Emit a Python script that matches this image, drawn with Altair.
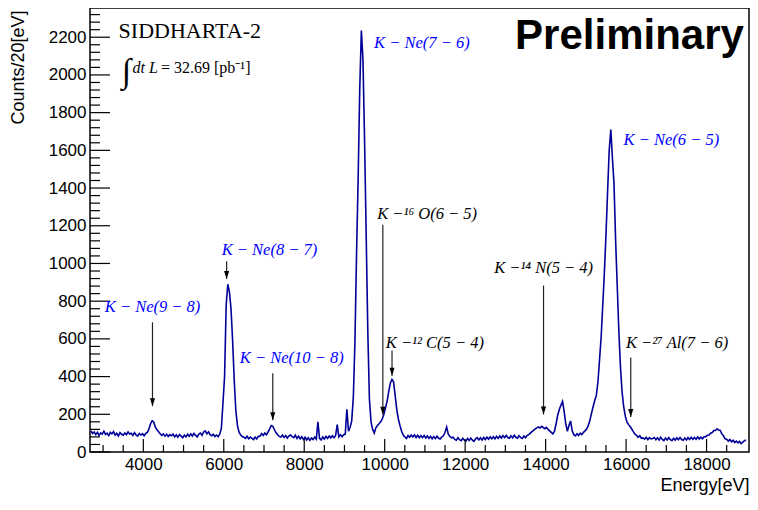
import altair as alt
import pandas as pd

SANS = "Liberation Sans"
SERIF = "Liberation Serif"

# ---- spectrum: counts per bin, bin centres start at 2700 eV, every 40 eV ----
BIN_START = 2700
BIN_STEP = 40
counts_2700 = [112, 98, 106, 92, 104, 88, 101, 95, 110, 93, 100, 87, 104, 96, 108, 90, 99, 85, 103, 94, 89, 101, 92, 106, 95]
counts_3700 = [99, 88, 102, 91, 84, 98, 90, 97, 86, 99, 104, 122, 150, 166, 158, 132, 118, 108, 97, 88, 96, 84, 94, 82, 92]
counts_4700 = [86, 95, 80, 91, 78, 93, 84, 76, 90, 80, 94, 83, 96, 85, 99, 88, 80, 95, 100, 88, 106, 112, 96, 107, 92]
counts_5700 = [86, 94, 82, 90, 81, 95, 125, 260, 400, 780, 890, 850, 760, 590, 380, 220, 140, 105, 90, 82, 78, 72, 84, 70, 79]
counts_6700 = [72, 66, 79, 69, 83, 84, 98, 88, 101, 91, 106, 122, 140, 136, 118, 102, 91, 83, 79, 90, 77, 87, 74, 85, 90]
counts_7700 = [82, 76, 89, 72, 84, 70, 81, 66, 78, 64, 76, 62, 74, 66, 79, 68, 160, 72, 64, 80, 69, 83, 72, 85, 75]
counts_8700 = [86, 76, 88, 145, 80, 91, 81, 92, 95, 227, 110, 130, 165, 290, 580, 1050, 1450, 1930, 2235, 2080, 1650, 1150, 640, 280, 160]
counts_9700 = [120, 100, 128, 140, 150, 160, 175, 200, 235, 270, 320, 365, 385, 372, 300, 225, 175, 140, 110, 90, 80, 72, 87, 78, 90]
counts_10700 = [80, 91, 77, 89, 75, 87, 76, 88, 74, 85, 72, 83, 70, 82, 71, 84, 73, 69, 80, 86, 105, 132, 94, 82, 75]
counts_11700 = [78, 67, 63, 76, 65, 60, 73, 63, 58, 72, 61, 74, 63, 57, 70, 76, 64, 75, 63, 77, 66, 79, 68, 80, 70]
counts_12700 = [81, 70, 83, 72, 85, 74, 87, 76, 88, 77, 73, 86, 75, 89, 78, 73, 87, 76, 72, 85, 76, 88, 92, 100, 108]
counts_13700 = [115, 122, 128, 133, 127, 136, 130, 124, 131, 120, 112, 104, 96, 110, 150, 195, 225, 248, 268, 215, 150, 110, 140, 165, 112]
counts_14700 = [92, 86, 97, 88, 100, 92, 104, 112, 122, 140, 168, 205, 240, 272, 300, 370, 490, 610, 780, 950, 1150, 1380, 1600, 1710, 1560]
counts_15700 = [1420, 1120, 880, 640, 450, 320, 240, 190, 160, 145, 135, 122, 108, 95, 88, 78, 86, 73, 75, 68, 78, 65, 76, 70, 72]
counts_16700 = [77, 65, 75, 63, 78, 67, 61, 74, 64, 76, 65, 60, 73, 63, 75, 65, 77, 66, 62, 74, 64, 76, 66, 78, 68]
counts_17700 = [77, 68, 80, 69, 79, 70, 82, 80, 89, 90, 100, 103, 114, 114, 123, 116, 114, 96, 86, 70, 68, 58, 66, 54, 62]
counts_18700 = [50, 58, 48, 56, 45, 52, 60, 63]

counts = (counts_2700 + counts_3700 + counts_4700 + counts_5700 + counts_6700 + counts_7700
          + counts_8700 + counts_9700 + counts_10700 + counts_11700 + counts_12700 + counts_13700
          + counts_14700 + counts_15700 + counts_16700 + counts_17700 + counts_18700)
energy = [BIN_START + i * BIN_STEP for i in range(len(counts))]

# ---- axes ----
x_domain = [2675, 19055]
y_domain = [0, 2355]
x_major = [4000, 6000, 8000, 10000, 12000, 14000, 16000, 18000]
x_minor = [v for v in range(3000, 19000, 500) if v not in x_major]
y_major = list(range(0, 2201, 200))
y_minor = [v for v in range(40, 2355, 40) if v not in y_major]

# ---- peak labels (text left edge / baseline, in data units) ----
lab_text = ["K − Ne(7 − 6)", "K − Ne(6 − 5)", "K − Ne(8 − 7)", "K − Ne(9 − 8)", "K − Ne(10 − 8)",
            "K −¹⁶ O(6 − 5)", "K −¹⁴ N(5 − 4)", "K −¹² C(5 − 4)", "K −²⁷ Al(7 − 6)"]
lab_e = [9736, 15938, 5948, 3042, 6400, 9814, 12720, 10026, 15995]
lab_c = [2141, 1627, 1046, 745, 470, 1235, 951, 550, 552]
lab_col = ["#0000ff"] * 5 + ["black"] * 4

# ---- arrows ----
arr_e = [4228, 6071, 7218, 9954, 10182, 13948, 16116]
arr_top = [688, 1012, 418, 1206, 538, 883, 501]
arr_tip = [243, 917, 168, 198, 404, 199, 186]

W, H = 659, 444

xs = alt.Scale(domain=x_domain, nice=False, zero=False)
ys = alt.Scale(domain=y_domain, nice=False, zero=False)

x_axis = alt.Axis(
    values=x_major, ticks=False, domain=False, grid=False, format="d",
    labelPadding=4, labelFontSize=17, labelFont=SANS, labelColor="black", labelFlush=False,
    title="Energy[eV]", titleX=W, titleY=38, titleAlign="right", titleBaseline="alphabetic",
    titleFontSize=18, titleFont=SANS, titleFontWeight="normal", titleColor="black")
y_axis = alt.Axis(
    values=y_major, ticks=False, domain=False, grid=False, format="d",
    labelPadding=4, labelFontSize=17, labelFont=SANS, labelColor="black", labelFlush=False,
    title="Counts/20[eV]", titleX=-81, titleY=2, titleAlign="right", titleAngle=270,
    titleBaseline="top", titleFontSize=18, titleFont=SANS, titleFontWeight="normal",
    titleColor="black")

spec_df = pd.DataFrame({"energy": energy, "counts": counts})

spectrum = alt.Chart(spec_df).mark_line(color="#000099", strokeWidth=1.6).encode(
    x=alt.X("energy:Q", scale=xs, axis=x_axis),
    y=alt.Y("counts:Q", scale=ys, axis=y_axis),
)

def yticks(vals, length):
    return alt.Chart(pd.DataFrame({"counts": vals})).mark_rule(color="black", strokeWidth=1.2).encode(
        y=alt.Y("counts:Q", scale=ys, axis=y_axis), x=alt.value(0), x2=alt.value(length))

def xticks(vals, length):
    return alt.Chart(pd.DataFrame({"energy": vals})).mark_rule(color="black", strokeWidth=1.2).encode(
        x=alt.X("energy:Q", scale=xs, axis=x_axis), y=alt.value(H), y2=alt.value(H - length))

arr_df = pd.DataFrame({"energy": arr_e, "counts": arr_top, "tip": arr_tip})
shafts = alt.Chart(arr_df).mark_rule(color="#222222", strokeWidth=1.2).encode(
    x=alt.X("energy:Q", scale=xs, axis=x_axis), y=alt.Y("counts:Q", scale=ys, axis=y_axis), y2="tip:Q")
heads = alt.Chart(arr_df).mark_point(shape="M-0.32,-1L0.32,-1L0,0Z", filled=True, size=256,
                                     color="black", opacity=1).encode(
    x=alt.X("energy:Q", scale=xs, axis=x_axis), y=alt.Y("tip:Q", scale=ys, axis=y_axis))

lab_df = pd.DataFrame({"energy": lab_e, "counts": lab_c, "t": lab_text, "col": lab_col})
labels = alt.Chart(lab_df).mark_text(align="left", baseline="alphabetic", font=SERIF,
                                     fontStyle="italic", fontSize=16.5).encode(
    x=alt.X("energy:Q", scale=xs, axis=x_axis), y=alt.Y("counts:Q", scale=ys, axis=y_axis),
    text="t:N", color=alt.Color("col:N", scale=None))

def note(e, c, text, **kw):
    return alt.Chart(pd.DataFrame({"energy": [e], "counts": [c], "t": [text]})).mark_text(**kw).encode(
        x=alt.X("energy:Q", scale=xs, axis=x_axis), y=alt.Y("counts:Q", scale=ys, axis=y_axis),
        text="t:N")

title1 = note(3386, 2195, "SIDDHARTA-2", align="left", baseline="alphabetic", font=SERIF,
              fontSize=22, color="black")
integral = note(3582, 2013, "∫", align="center", baseline="middle", font=SERIF,
                fontSize=34, color="black")
lumi1 = note(3730, 2009, "dt L", align="left", baseline="alphabetic", font=SERIF,
             fontStyle="italic", fontSize=16, color="black")
lumi2 = note(4440, 2009, "=  32.69 [pb⁻¹]", align="left", baseline="alphabetic", font=SERIF,
             fontSize=16, color="black")
prelim = note(18928, 2138, "Preliminary", align="right", baseline="alphabetic", font=SANS,
              fontWeight="bold", fontSize=42, color="black")

chart = alt.layer(
    spectrum,
    yticks(y_major, 20), yticks(y_minor, 10),
    xticks(x_major, 13), xticks(x_minor, 7),
    shafts, heads, labels,
    title1, integral, lumi1, lumi2, prelim,
).properties(
    width=W, height=H,
    autosize=alt.AutoSizeParams(type="none"),
    padding={"left": 82, "top": 0, "right": 1, "bottom": 44},
    background="white",
).configure_view(stroke="black", strokeWidth=1.5)

chart.save("out.html", embed_options={"renderer": "svg", "actions": False})
